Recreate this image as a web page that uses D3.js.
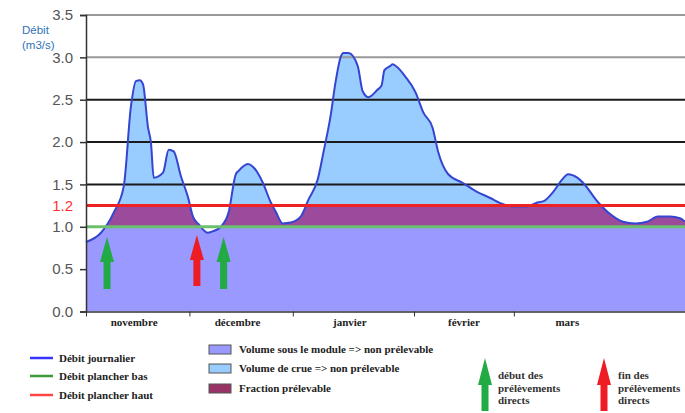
<!DOCTYPE html>
<html>
<head>
<meta charset="utf-8">
<script src="https://cdn.jsdelivr.net/npm/d3@7"></script>
<style>
  body { margin: 0; background: #fff; }
  svg { display: block; }
</style>
</head>
<body>
<div id="chart"></div>
<script>
// jour (depuis le 1er novembre) et débit journalier
const days = [0, 4.2, 7.8, 10.6, 12.6, 14, 15.1, 16, 17.4, 18.2, 19, 21.6, 23.2, 24.6, 26.6, 28.6, 30, 31.6, 34.2, 35.8, 37.8, 40, 42, 42.8, 45.4, 46.8, 49.6, 51.8, 53.2, 55.2, 57.4, 60.2, 62.4, 65, 66.6, 68.6, 70, 71.4, 72.2, 73.6, 76.2, 77.6, 79.2, 81.8, 82.9, 83.7, 85.4, 86, 87.4, 89.6, 92.4, 94.6, 97.2, 98.8, 101.6, 105.6, 109.8, 113.4, 116.2, 119.8, 123.8, 126.8, 128.2, 131, 133.6, 135.2, 137.8, 139.4, 143.6, 147, 150.6, 154, 157.4, 160.4, 163.8, 166.6, 168]
const debit = [0.82, 0.93, 1.17, 1.48, 2.42, 2.72, 2.73, 2.68, 2.17, 2.0, 1.58, 1.64, 1.91, 1.89, 1.6, 1.35, 1.12, 1.03, 0.93, 0.95, 1.0, 1.17, 1.62, 1.66, 1.74, 1.71, 1.52, 1.29, 1.18, 1.04, 1.05, 1.12, 1.32, 1.56, 1.88, 2.31, 2.71, 3.0, 3.05, 3.05, 2.9, 2.6, 2.53, 2.62, 2.67, 2.85, 2.9, 2.92, 2.88, 2.77, 2.59, 2.35, 2.17, 1.88, 1.62, 1.52, 1.41, 1.34, 1.28, 1.24, 1.24, 1.29, 1.3, 1.41, 1.56, 1.62, 1.58, 1.52, 1.29, 1.15, 1.06, 1.04, 1.06, 1.12, 1.12, 1.1, 1.06]

const planBas = 1.0
const planHaut = 1.25
const yTicks = [0, 0.5, 1.0, 1.5, 2.0, 2.5, 3.0, 3.5]
const gridValues = [1.5, 2.0, 2.5, 3.0, 3.5]

const monthBounds = [0, 29, 58, 92, 120]
const months = ["novembre", "décembre", "janvier", "février", "mars"]
const monthCenters = [13.5, 42.5, 74, 106, 135]

const startDays = [5.9, 38.6]
const endDays = [31.1]

const W = 685, H = 413
const SERIF = "'Liberation Serif', 'DejaVu Serif', 'Times New Roman', serif"
const SANS = "'Liberation Sans', Arial, sans-serif"
const data = days.map((d, i) => ({ d, v: debit[i] }))

const svg = d3.select("#chart").append("svg").attr("width", W).attr("height", H)

const x = d3.scaleLinear().domain([0, 168]).range([86, 685])
const y = d3.scaleLinear().domain([0, 3.5]).range([311.5, 15])

// AREAS ------------------------
const area = d3.area().x(p => x(p.d)).y0(y(0)).y1(p => y(p.v)).curve(d3.curveMonotoneX)
svg.append("clipPath").attr("id", "under").append("path").datum(data).attr("d", area)

const bands = [
  { lo: 0, hi: planBas, c: "#9999ff" },
  { lo: planBas, hi: planHaut, c: "#9c4a9c" },
  { lo: planHaut, hi: 3.5, c: "#99ccff" },
]
svg.append("g").attr("clip-path", "url(#under)")
  .selectAll("rect").data(bands).enter().append("rect")
  .attr("x", x(0)).attr("width", x(168) - x(0))
  .attr("y", b => y(b.hi)).attr("height", b => y(b.lo) - y(b.hi))
  .attr("fill", b => b.c)

// GRID ------------------------
svg.append("g").selectAll("line").data(gridValues).enter().append("line")
  .attr("x1", x(0)).attr("x2", W)
  .attr("y1", v => y(v)).attr("y2", v => y(v))
  .attr("stroke", v => v >= 3 ? "#999" : "#1a1a1a")
  .attr("stroke-width", 2)

// daily flow
svg.append("path").datum(data)
  .attr("d", d3.line().x(p => x(p.d)).y(p => y(p.v)).curve(d3.curveMonotoneX))
  .attr("fill", "none").attr("stroke", "#3545d0").attr("stroke-width", 2)

// thresholds
svg.append("line").attr("x1", x(0)).attr("x2", W).attr("y1", y(planHaut)).attr("y2", y(planHaut))
  .attr("stroke", "#ee2222").attr("stroke-width", 3)
svg.append("line").attr("x1", x(0)).attr("x2", W).attr("y1", y(planBas)).attr("y2", y(planBas))
  .attr("stroke", "#6cbf6c").attr("stroke-width", 3)

// ARROWS ----------------------
const arrowPath = (cx, top, bottom, head, hw, sw) =>
  `M${cx},${top} L${cx + hw},${top + head} L${cx + sw},${top + head} L${cx + sw},${bottom} L${cx - sw},${bottom} L${cx - sw},${top + head} L${cx - hw},${top + head} Z`

svg.append("g").selectAll("path").data(startDays).enter().append("path")
  .attr("d", d => arrowPath(x(d), 237, 289, 25, 7, 3.5)).attr("fill", "#22aa44")
svg.append("g").selectAll("path").data(endDays).enter().append("path")
  .attr("d", d => arrowPath(x(d), 235, 286, 25, 7, 3.5)).attr("fill", "#ee1c25")

// AXES ------------------------
const yAxis = svg.append("g").attr("transform", `translate(${x(0)},0)`)
  .call(d3.axisLeft(y).tickValues(yTicks).tickFormat(d3.format(".1f")).tickSize(6).tickPadding(7))
yAxis.select(".domain").attr("stroke", "#333").attr("stroke-width", 1.5)
yAxis.selectAll(".tick line").attr("stroke", "#333").attr("stroke-width", 1.5)
yAxis.selectAll("text").attr("fill", "#555").attr("font-family", SANS).attr("font-size", 15)

svg.append("text").attr("x", x(0) - 13).attr("y", y(planHaut)).attr("dy", "0.35em")
  .attr("text-anchor", "end").attr("fill", "#ff3333")
  .attr("font-family", SANS).attr("font-size", 15).text("1.2")

const unit = svg.append("text").attr("fill", "#2e74b5")
  .attr("font-family", SANS).attr("font-size", 11.5)
unit.append("tspan").attr("x", 22).attr("y", 34).text("Débit")
unit.append("tspan").attr("x", 22).attr("y", 49).text("(m3/s)")

const xAxis = svg.append("g").attr("transform", `translate(0,${y(0)})`)
  .call(d3.axisBottom(x).tickValues(monthBounds).tickFormat("").tickSize(5).tickSizeOuter(0))
xAxis.select(".domain").attr("stroke", "#333").attr("stroke-width", 1.5)
xAxis.selectAll(".tick line").attr("stroke", "#333")

svg.append("g").selectAll("text").data(months).enter().append("text")
  .attr("x", (m, i) => x(monthCenters[i])).attr("y", 326)
  .attr("text-anchor", "middle").attr("fill", "#222")
  .attr("font-family", SERIF).attr("font-weight", "bold").attr("font-size", 11)
  .text(m => m)

// LEGEND ----------------------
const legLines = [
  { t: "Débit journalier", c: "#3535ff", y: 358 },
  { t: "Débit plancher bas", c: "#3a9a3a", y: 376 },
  { t: "Débit plancher haut", c: "#ff4444", y: 395 },
]
const gl = svg.append("g").selectAll("g").data(legLines).enter().append("g")
gl.append("line").attr("x1", 30).attr("x2", 53).attr("y1", d => d.y).attr("y2", d => d.y)
  .attr("stroke", d => d.c).attr("stroke-width", 2.5)
gl.append("text").attr("x", 59).attr("y", d => d.y + 4)
  .attr("font-family", SERIF).attr("font-weight", "bold").attr("font-size", 11)
  .attr("fill", "#222").text(d => d.t)

const legRects = [
  { t: "Volume sous le module => non prélevable", c: "#9999ff", y: 345 },
  { t: "Volume de crue => non prélevable", c: "#99ccff", y: 364 },
  { t: "Fraction prélevable", c: "#993366", y: 384 },
]
const gr = svg.append("g").selectAll("g").data(legRects).enter().append("g")
gr.append("rect").attr("x", 209).attr("y", d => d.y).attr("width", 22).attr("height", 9)
  .attr("fill", d => d.c).attr("stroke", "#555").attr("stroke-width", 1)
gr.append("text").attr("x", 239).attr("y", d => d.y + 8)
  .attr("font-family", SERIF).attr("font-weight", "bold").attr("font-size", 11)
  .attr("fill", "#222").text(d => d.t)

const legArrows = [
  { c: "#22aa44", x: 485, lines: ["début des", "prélèvements", "directs"], tx: 498 },
  { c: "#ee1c25", x: 604, lines: ["fin des", "prélèvements", "directs"], tx: 618 },
]
legArrows.forEach(a => {
  svg.append("path").attr("d", arrowPath(a.x, 358, 411, 27, 7, 3.5)).attr("fill", a.c)
  const t = svg.append("text").attr("font-family", SERIF).attr("font-weight", "bold")
    .attr("font-size", 11).attr("fill", "#333")
  a.lines.forEach((l, i) => t.append("tspan").attr("x", a.tx).attr("y", 379 + i * 12.5).text(l))
})
</script>
</body>
</html>
